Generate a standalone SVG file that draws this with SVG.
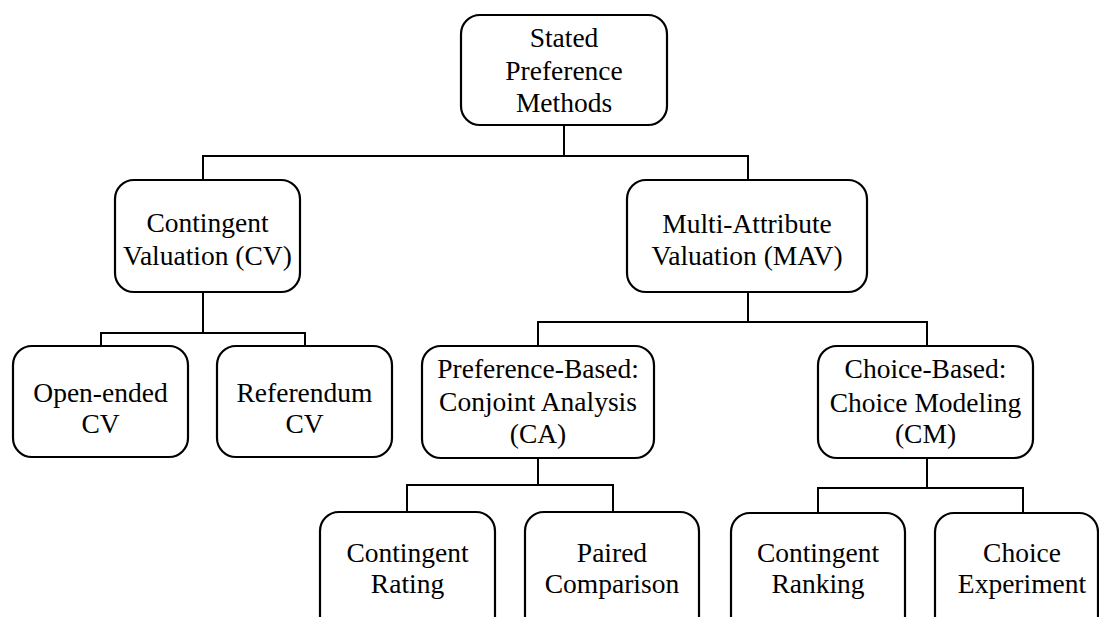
<svg xmlns="http://www.w3.org/2000/svg" width="1099" height="617" viewBox="0 0 1099 617">
<style>
.box{fill:#fff;stroke:#000;stroke-width:2.2}
.ln{fill:none;stroke:#000;stroke-width:2}
text{font-family:"Liberation Serif","Times New Roman",serif;font-size:27.5px;fill:#000;text-anchor:middle}
</style>
<rect width="1099" height="617" fill="#fff"/>
<g id="connectors">
<path class="ln" d="M564 125V156M203 180V156H748V180"/>
<path class="ln" d="M203 292V333M101 346V333H305V346"/>
<path class="ln" d="M748 292V322M538 346V322H927V346"/>
<path class="ln" d="M538 458V485M407 512V485H613V512"/>
<path class="ln" d="M927 458V488M818 513V488H1023V513"/>
</g>
<g id="root"><rect class="box" x="461" y="15" width="206" height="110" rx="19"/>
<text x="564" y="47">Stated</text><text x="564" y="80">Preference</text><text x="564" y="112">Methods</text></g>
<g id="cv"><rect class="box" x="115" y="180" width="185" height="112" rx="19"/>
<text x="207.5" y="232">Contingent</text><text x="207.5" y="265">Valuation (CV)</text></g>
<g id="mav"><rect class="box" x="627" y="180" width="240" height="112" rx="19"/>
<text x="747" y="233">Multi-Attribute</text><text x="747" y="265">Valuation (MAV)</text></g>
<g id="openended"><rect class="box" x="13" y="346" width="175" height="111" rx="19"/>
<text x="100.5" y="402">Open-ended</text><text x="100.5" y="433">CV</text></g>
<g id="referendum"><rect class="box" x="217" y="346" width="175" height="111" rx="19"/>
<text x="304.5" y="402">Referendum</text><text x="304.5" y="433">CV</text></g>
<g id="ca"><rect class="box" x="422" y="346" width="232" height="112" rx="19"/>
<text x="538" y="378">Preference-Based:</text><text x="538" y="411">Conjoint Analysis</text><text x="538" y="443">(CA)</text></g>
<g id="cm"><rect class="box" x="818" y="346" width="215" height="112" rx="19"/>
<text x="925.5" y="378">Choice-Based:</text><text x="925.5" y="412">Choice Modeling</text><text x="925.5" y="443">(CM)</text></g>
<g id="rating"><rect class="box" x="320" y="512" width="175" height="130" rx="19"/>
<text x="407.5" y="562">Contingent</text><text x="407.5" y="593">Rating</text></g>
<g id="paired"><rect class="box" x="525" y="512" width="174" height="130" rx="19"/>
<text x="612" y="562">Paired</text><text x="612" y="593">Comparison</text></g>
<g id="ranking"><rect class="box" x="731" y="513" width="174" height="130" rx="19"/>
<text x="818" y="562">Contingent</text><text x="818" y="593">Ranking</text></g>
<g id="experiment"><rect class="box" x="935" y="513" width="163" height="130" rx="19"/>
<text x="1022" y="562">Choice</text><text x="1022" y="593">Experiment</text></g>
</svg>
